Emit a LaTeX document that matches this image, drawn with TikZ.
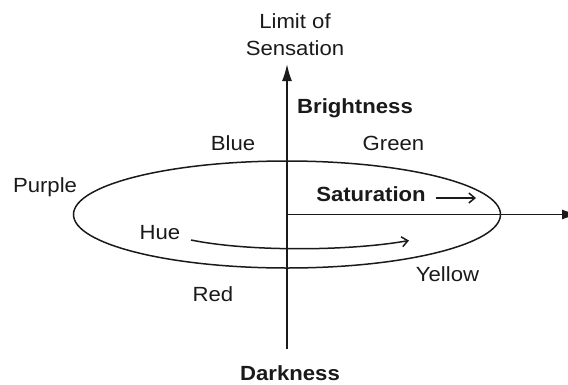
\documentclass[tikz,border=0pt]{standalone}
\usepackage{fontspec}
\setmainfont{Liberation Sans}[FakeStretch=1.08]
\usetikzlibrary{arrows.meta}
\definecolor{ink}{HTML}{1A1A1A}
\tikzset{
  lbl/.style={anchor=base, inner sep=0pt, text=ink, font=\fontsize{20.5}{27}\selectfont},
  blbl/.style={lbl, font=\fontsize{20.5}{27}\selectfont\bfseries},
  axis/.style={draw=ink, line width=1.7pt},
  bigtip/.style={-{Latex[length=17pt,width=10pt]}},
  smallarrow/.style={draw=ink, line width=1.5pt, -{Straight Barb[length=6pt,width=10pt]}}
}
\begin{document}
\begin{tikzpicture}[x=1pt,y=-1pt]
\useasboundingbox (0,0) rectangle (568,384);
\begin{scope}
\clip (0,0) rectangle (568,384);
% axes
\coordinate (O) at (287,214.5);
\coordinate (top) at (287,64);
\coordinate (bot) at (287,349);
\coordinate (right) at (579,214.5);
\draw[axis, bigtip] (bot) -- (top);
\draw[axis, bigtip] (O) -- (right);
% ellipse
\draw[axis, line width=1.5pt] (O) ellipse [x radius=213.5, y radius=53.5];
\end{scope}
% labels
\node[lbl] (lim) at (295,28) {Limit of};
\node[lbl] (sen) at (295,55) {Sensation};
\node[blbl] (bright) at (355,113) {Brightness};
\node[lbl] (blue) at (233,150.5) {Blue};
\node[lbl] (green) at (393.5,150.5) {Green};
\node[lbl] (purple) at (45,192) {Purple};
\node[blbl] (sat) at (371,201.5) {Saturation};
\node[lbl] (hue) at (160,239) {Hue};
\node[lbl] (yellow) at (447.5,281.5) {Yellow};
\node[lbl] (red) at (213,301.5) {Red};
\node[blbl] (dark) at (290,380.5) {Darkness};
% small arrows
\coordinate (s1) at (436,198);
\coordinate (s2) at (476,198);
\draw[smallarrow] (s1) -- (s2);
\coordinate (h1) at (191,240);
\coordinate (h2) at (409,240.5);
\draw[smallarrow] (h1) .. controls (250,252) and (350,251) .. (h2);
\end{tikzpicture}
\end{document}
